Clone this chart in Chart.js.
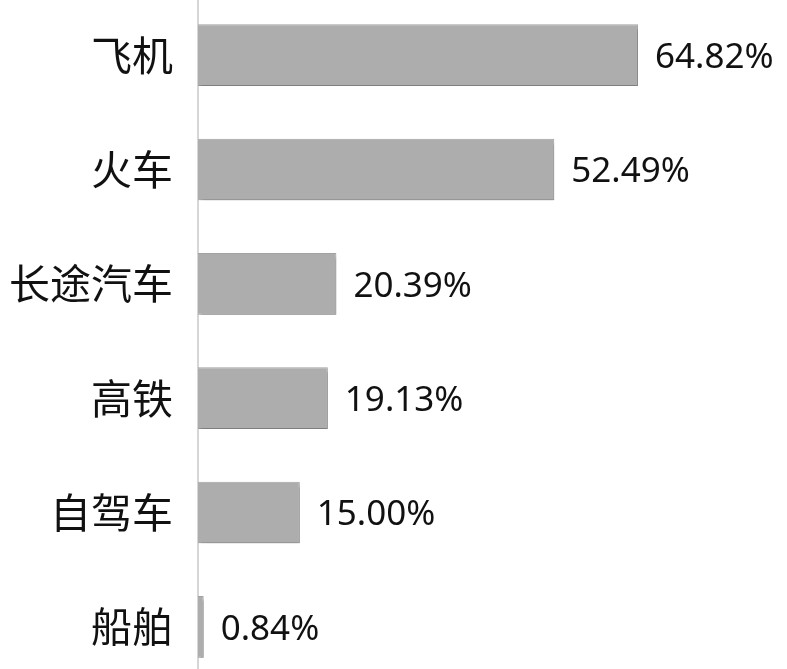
<!DOCTYPE html>
<html><head><meta charset="utf-8">
<script src="https://cdn.jsdelivr.net/npm/chart.js@4"></script>
<style>
html,body{margin:0;padding:0;background:#fff;overflow:hidden;width:787px;height:669px;}
#wrap{position:absolute;left:0;top:-2px;width:787px;height:686px;}
</style></head>
<body>
<div id="wrap"><canvas id="c"></canvas></div>
<script>
const categories = ['飞机','火车','长途汽车','高铁','自驾车','船舶'];
const values = [64.82, 52.49, 20.39, 19.13, 15.00, 0.84];
const xTicks = [0, 80];

const shadowPlugin = {
  id: 'shadow',
  beforeDatasetDraw(chart){ const c=chart.ctx; c.save(); c.shadowColor='rgba(0,0,0,0.22)'; c.shadowOffsetX=2; c.shadowOffsetY=4; c.shadowBlur=3; },
  afterDatasetDraw(chart){ chart.ctx.restore(); }
};
const labelPlugin = {
  id: 'vlabels',
  afterDatasetsDraw(chart){
    const c=chart.ctx; const meta=chart.getDatasetMeta(0);
    c.save(); c.font='35px "Noto Sans", "Liberation Sans", sans-serif'; c.fillStyle='#111';
    c.textAlign='left'; c.textBaseline='middle';
    meta.data.forEach((bar,i)=>{ c.fillText(values[i].toFixed(2)+'%', bar.x+17, bar.y+3); });
    c.restore();
  }
};
new Chart(document.getElementById('c'), {
  type:'bar',
  data:{labels:categories, datasets:[{data:values, backgroundColor:'#adadad', borderColor:'#a2a2a2', borderWidth:1, barPercentage:0.54, categoryPercentage:1}]},
  plugins:[shadowPlugin,labelPlugin],
  options:{
    indexAxis:'y', responsive:true, maintainAspectRatio:false, animation:false,
    layout:{padding:{left:0,right:46,top:0,bottom:0}},
    plugins:{legend:{display:false}, tooltip:{enabled:false}},
    scales:{
      x:{display:false, min:xTicks[0], max:xTicks[1]},
      y:{
        afterFit(s){ s.width=198; s.paddingTop=0; s.paddingBottom=0; },
        grid:{display:false, drawTicks:false},
        border:{display:true, color:'#d6d6d6', width:2},
        ticks:{padding:25, color:'#111', font:{family:'"Noto Sans CJK SC", sans-serif', size:41}}
      }
    }
  }
});
</script>
</body></html>
